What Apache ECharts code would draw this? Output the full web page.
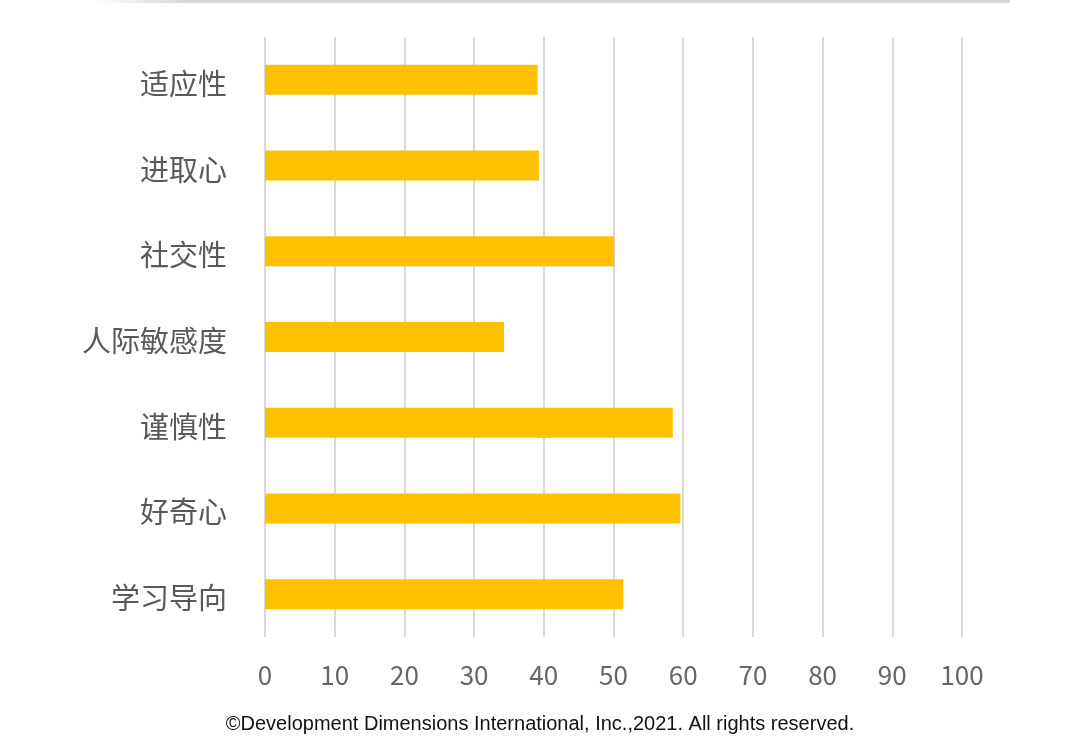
<!DOCTYPE html>
<html><head><meta charset="utf-8">
<script src="https://cdn.jsdelivr.net/npm/echarts@6/dist/echarts.min.js"></script>
<style>html,body{margin:0;padding:0;background:#fff}#c{width:1080px;height:754px}</style>
</head><body><div id="c"></div>
<script>
const categories = ['学习导向','好奇心','谨慎性','人际敏感度','社交性','进取心','适应性'];
const values = [51.4, 59.6, 58.5, 34.3, 50.1, 39.3, 39.1];
const xTicks = [0,10,20,30,40,50,60,70,80,90,100];
const footer = '©Development Dimensions International, Inc.,2021. All rights reserved.';

const chart = echarts.init(document.getElementById('c'));
chart.setOption({
  backgroundColor: '#ffffff',
  animation: false,
  grid: { left: 265, right: 118, top: 37, bottom: 117, containLabel: false },
  xAxis: {
    type: 'value', min: xTicks[0], max: xTicks[xTicks.length-1], interval: 10,
    axisLine: { show: false }, axisTick: { show: false },
    splitLine: { show: true, lineStyle: { color: '#d9d9d9', width: 2 } },
    axisLabel: { color: '#666666', fontSize: 26, margin: 25, fontFamily: 'Noto Sans CJK SC, sans-serif' }
  },
  yAxis: {
    type: 'category', data: categories,
    axisLine: { show: false }, axisTick: { show: false },
    axisLabel: {
      margin: 38,
      formatter: function (v) { return '{a|' + v + '}'; },
      rich: { a: { color: '#595959', fontSize: 29, padding: [8, 0, 0, 0], fontFamily: 'Noto Sans CJK SC, sans-serif' } }
    }
  },
  series: [{
    type: 'bar', data: values, barWidth: 30,
    itemStyle: { color: '#ffc000' }
  }],
  graphic: [
    { type: 'rect', left: 95, top: 0, shape: { width: 915, height: 3 },
      style: { fill: new echarts.graphic.LinearGradient(0,0,1,0,[{offset:0,color:'rgba(210,210,210,0)'},{offset:0.1,color:'#d6d6d6'},{offset:1,color:'#d6d6d6'}]) } },
    { type: 'text', left: 'center', top: 714,
      style: { text: footer, fill: '#111', font: '20px "Liberation Sans", Arial, sans-serif' } }
  ]
});
</script></body></html>
